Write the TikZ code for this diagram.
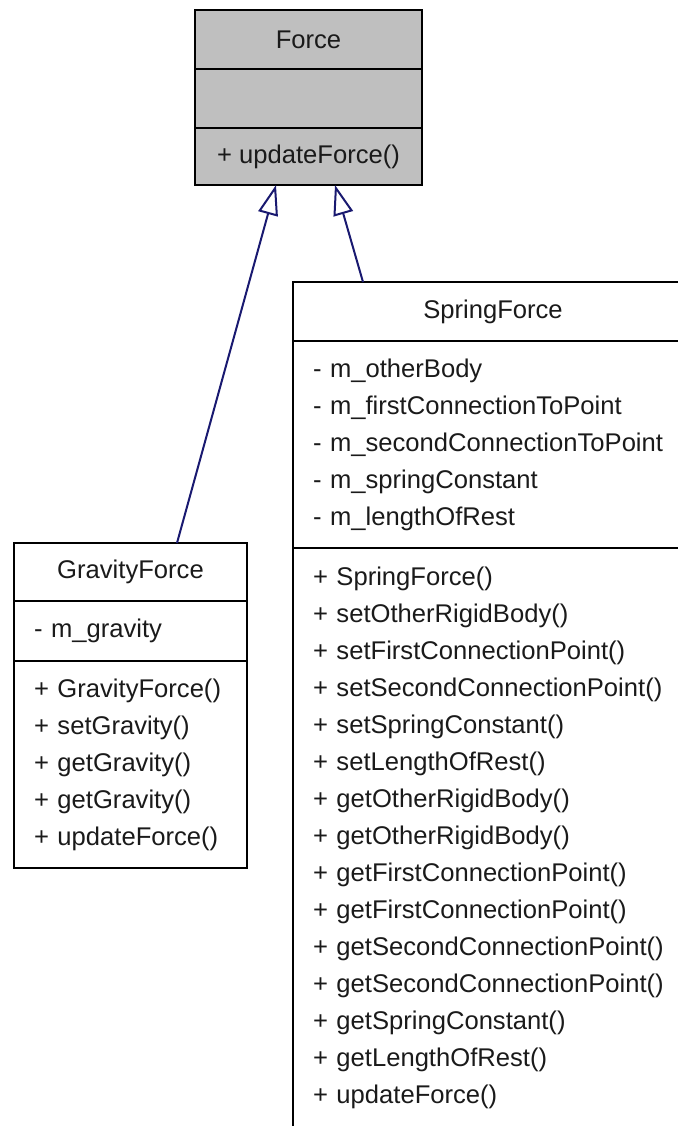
\documentclass[tikz,border=0pt]{standalone}
\usepackage{fontspec}
\setmainfont{Liberation Sans}
\usetikzlibrary{arrows.meta,positioning}
\definecolor{umlgrey}{HTML}{BFBFBF}
\definecolor{umlnavy}{HTML}{191970}
\definecolor{umltext}{HTML}{1A1A1A}
\tikzset{
  comp/.style={draw=black, line width=1pt, outer sep=0pt, inner sep=0pt,
               font=\fontsize{12.8}{18.5}\selectfont, text=umltext},
  clstitle/.style={comp, align=center},
  members/.style={comp, align=left, inner xsep=10pt},
  inherit/.style={-{Triangle[length=15pt, width=10pt, fill=white]}, line width=1pt, draw=umlnavy},
}
\begin{document}
\begin{tikzpicture}[x=0.5pt, y=-0.5pt]
  \useasboundingbox (0,0) rectangle (678,1126);
  \clip (0,0) rectangle (678,1126);
  % base class
  \node[clstitle, fill=umlgrey, minimum width=113.5pt, minimum height=29.5pt] (force) at (308.5,39.5) {Force};
  \node[clstitle, fill=umlgrey, minimum width=113.5pt, minimum height=29.5pt, below=0pt of force] (forceattr) {};
  \node[clstitle, fill=umlgrey, minimum width=113.5pt, minimum height=28.5pt, below=0pt of forceattr] (forceops) {+ updateForce()};
  % gravity
  \node[clstitle, minimum width=116.5pt, minimum height=29pt] (gravity) at (130.5,572) {GravityForce};
  \node[members, text width=96.5pt, minimum height=30pt, below=0pt of gravity] (gravityattr) {- m\_gravity};
  \node[members, text width=96.5pt, minimum height=103.5pt, below=0pt of gravityattr] (gravityops)
    {+ GravityForce()\\+ setGravity()\\+ getGravity()\\+ getGravity()\\+ updateForce()};
  % spring
  \node[clstitle, minimum width=200pt, minimum height=29.5pt] (spring) at (493,311.5) {SpringForce};
  \node[members, text width=180pt, minimum height=103.5pt, below=0pt of spring] (springattr)
    {- m\_otherBody\\- m\_firstConnectionToPoint\\- m\_secondConnectionToPoint\\- m\_springConstant\\- m\_lengthOfRest};
  \node[comp, minimum width=200pt, minimum height=300pt, below=0pt of springattr] (springops) {};
  \node[members, draw=none, text width=180pt, anchor=north west] (springopslist) at ([yshift=-9.5pt]springops.north west)
    {+ SpringForce()\\+ setOtherRigidBody()\\+ setFirstConnectionPoint()\\+ setSecondConnectionPoint()\\
     + setSpringConstant()\\+ setLengthOfRest()\\+ getOtherRigidBody()\\+ getOtherRigidBody()\\
     + getFirstConnectionPoint()\\+ getFirstConnectionPoint()\\+ getSecondConnectionPoint()\\
     + getSecondConnectionPoint()\\+ getSpringConstant()\\+ getLengthOfRest()\\+ updateForce()};
  % inheritance
  \draw[inherit] ([xshift=23.25pt]gravity.north) -- ([xshift=-16.25pt]forceops.south);
  \draw[inherit] ([xshift=35pt]spring.north west) -- ([xshift=13.25pt]forceops.south);
\end{tikzpicture}
\end{document}
